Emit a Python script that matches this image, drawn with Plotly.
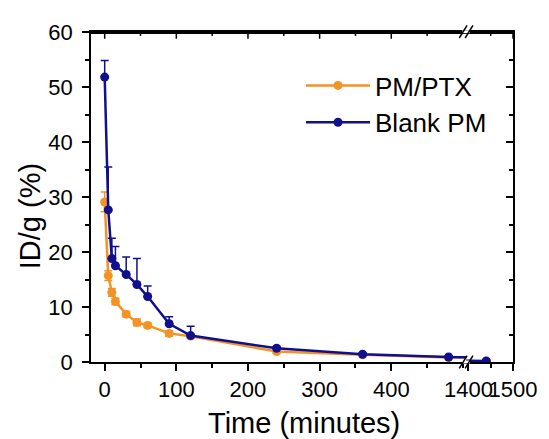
import plotly.graph_objects as go

# ---- data ----
time_min = [0, 5, 10, 15, 30, 45, 60, 90, 120, 240, 360, 480, 1440]
pm_ptx = [29.1, 15.7, 12.65, 11.0, 8.7, 7.2, 6.65, 5.2, 4.7, 1.9, 1.3, 0.8, 0.15]
pm_ptx_err = [1.8, 0.9, 0.7, 0.6, 0.5, 0.6, 0.4, 0.5, 0.4, 0.3, 0.2, 0.2, 0.1]
blank_pm = [51.8, 27.65, 18.8, 17.5, 15.9, 14.1, 11.9, 6.95, 4.8, 2.5, 1.4, 0.9, 0.2]
blank_pm_err = [3.0, 7.8, 3.7, 3.5, 3.2, 4.7, 1.9, 1.3, 1.7, 0.3, 0.2, 0.2, 0.1]

series_names = ["PM/PTX", "Blank PM"]
series_colors = ["#F39323", "#10108F"]

x1_ticks = [0, 100, 200, 300, 400]
x2_ticks = [1400, 1500]
y_ticks = [0, 10, 20, 30, 40, 50, 60]

FONT = "Liberation Sans, Arial, sans-serif"

fig = go.Figure()

series = [(pm_ptx, pm_ptx_err, True), (blank_pm, blank_pm_err, False)]
for xa, ya, show in [("x", "y", True), ("x2", "y2", False)]:
    for i, (vals, errs, sym) in enumerate(series):
        err = dict(type="data", array=errs, color=series_colors[i], thickness=1.5, width=4,
                   visible=True)
        if not sym:
            err["symmetric"] = False
            err["arrayminus"] = [0] * len(errs)
        fig.add_trace(go.Scatter(
            x=time_min, y=vals, mode="lines+markers", name=series_names[i],
            line=dict(color=series_colors[i], width=2.5),
            marker=dict(color=series_colors[i], size=9),
            error_y=err, xaxis=xa, yaxis=ya, showlegend=show,
        ))

D1 = 0.889
axis_common = dict(showline=True, linecolor="black", linewidth=1.5, showgrid=False,
                   zeroline=False, tickfont=dict(family=FONT, size=22, color="black"),
                   ticklen=7, tickwidth=1.5, tickcolor="black")

# page body has an 8px margin: figure is 541x431 so it ends at the window edge
fig.update_layout(
    width=541, height=431,
    margin=dict(l=83, r=26, t=14, b=77),
    paper_bgcolor="white", plot_bgcolor="white",
    font=dict(family=FONT, color="black"),
    xaxis=dict(domain=[0, D1], range=[-19.1, 504.5], tickvals=x1_ticks, ticks="outside",
               tickangle=0, anchor="y", ticklabelstandoff=0, mirror=True,
               minor=dict(dtick=50, tick0=0, ticks="outside", ticklen=4, tickwidth=1.5,
                          tickcolor="black"),
               **axis_common),
    xaxis2=dict(domain=[D1, 1], range=[1395, 1500], tickvals=x2_ticks, ticks="outside",
                tickangle=0, anchor="y2", ticklabelstandoff=0, mirror=True,
                minor=dict(tickvals=[1450], ticks="outside", ticklen=4, tickwidth=1.5,
                           tickcolor="black"),
                **axis_common),
    yaxis=dict(range=[0, 60], tickvals=y_ticks, ticks="outside", anchor="x",
               ticklabelstandoff=5,
               minor=dict(dtick=5, tick0=0, ticks="outside", ticklen=4, tickwidth=1.5,
                          tickcolor="black"),
               **axis_common),
    yaxis2=dict(range=[0, 60], tickvals=y_ticks, ticks="inside", anchor="x2", side="right",
                showticklabels=False,
                minor=dict(dtick=5, tick0=0, ticks="inside", ticklen=4, tickwidth=1.5,
                           tickcolor="black"),
                **axis_common),
    legend=dict(x=(306 - 91) / 432, y=0.909, xanchor="left", yanchor="top",
                bgcolor="rgba(0,0,0,0)",
                font=dict(family=FONT, size=26, color="black"), tracegroupgap=0,
                itemwidth=64),
    showlegend=True,
)

# top frame line plus inward top ticks
PLOT_H = 340
top = 1 - 1.0 / PLOT_H
fig.add_shape(type="line", xref="paper", yref="paper", x0=0, x1=1, y0=top, y1=top,
              line=dict(color="black", width=2), layer="above")
for xr, majors, minors in [
    ("x", x1_ticks, [t + 50 for t in x1_ticks]),
    ("x2", x2_ticks[1:], [(x2_ticks[0] + x2_ticks[1]) / 2]),
]:
    for ticks, ln in [(majors, 7), (minors, 4)]:
        for t in ticks:
            fig.add_shape(type="line", xref=xr, yref="paper",
                          x0=t, x1=t, y0=1, y1=1 - ln / PLOT_H,
                          line=dict(color="black", width=1.5))

# axis titles as annotations
fig.add_annotation(text="Time (minutes)", xref="paper", yref="paper", x=0.505, y=-0.186,
                   xanchor="center", yanchor="middle", showarrow=False,
                   font=dict(family=FONT, size=29, color="black"))
fig.add_annotation(text="ID/g (%)", xref="paper", yref="paper", x=-0.146, y=0.443,
                   xanchor="center", yanchor="middle", showarrow=False, textangle=-90,
                   font=dict(family=FONT, size=29, color="black"))

# axis break marks
def px(x):
    return (x - 91) / 432

def py(y):
    return (362 - y) / 340

for yc in (21.7, 362):
    fig.add_shape(type="rect", xref="paper", yref="paper",
                  x0=px(471), x1=px(479), y0=py(yc + 1.5), y1=py(yc - 1.5),
                  fillcolor="white", line=dict(width=0))
    for dx in (0, 6):
        fig.add_shape(type="line", xref="paper", yref="paper",
                      x0=px(468 + dx), y0=py(yc + 6.5), x1=px(476 + dx), y1=py(yc - 6.5),
                      line=dict(color="black", width=1.5))

fig.write_html("out.html")
